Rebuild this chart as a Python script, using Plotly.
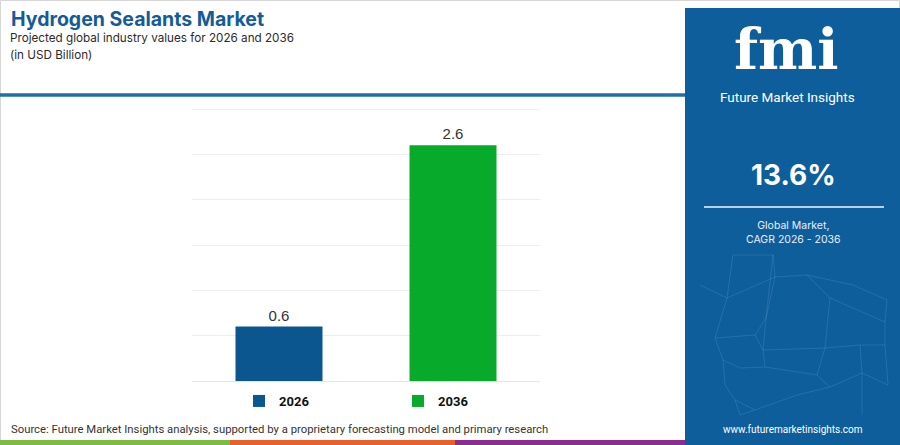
import plotly.graph_objects as go

# ---- data ----
years = ["2026", "2036"]
values = [0.6, 2.6]
bar_colors = ["#0b568f", "#08aa2c"]
value_labels = ["0.6", "2.6"]
grid_values = [0.5, 1.0, 1.5, 2.0, 2.5, 3.0]
cagr_text = "13.6%"
title_text = "Hydrogen Sealants Market"
subtitle_lines = ["Projected global industry values for 2026 and 2036", "(in USD Billion)"]
source_text = "Source: Future Market Insights analysis, supported by a proprietary forecasting model and primary research"

W, H = 900, 445
L, R, T, B = 192, 540, 106, 381  # plot area in px
Y_TOP = 3.0 * (B - T) / 272.0


def px(x):
    return (x - L) / (R - L)


def py(y):
    return (B - y) / (B - T)


fig = go.Figure()
for yr, v, c, lab in zip(years, values, bar_colors, value_labels):
    fig.add_trace(go.Bar(
        x=[yr], y=[v], name=yr, marker=dict(color=c, line=dict(width=0)),
        text=[lab], textposition="outside", cliponaxis=False,
        textfont=dict(family="Liberation Sans, Arial", size=15, color="#333333"),
        width=0.5,
    ))

shapes = []
# outer light border
shapes.append(dict(type="rect", xref="paper", yref="paper", x0=px(0.5), x1=px(899.5), y0=py(444.5), y1=py(0.5),
                   line=dict(color="#d6d6d6", width=1), fillcolor="rgba(0,0,0,0)", layer="below"))
# blue header rule
shapes.append(dict(type="line", xref="paper", yref="paper", x0=px(0), x1=px(686), y0=py(95), y1=py(95),
                   line=dict(color="#1f6fae", width=3.5)))
# right panel
shapes.append(dict(type="rect", xref="paper", yref="paper", x0=px(685), x1=px(900), y0=py(445), y1=py(8),
                   line=dict(width=0), fillcolor="#0e5e9c", layer="above"))
# bottom colour strip
for x0, x1, col in [(0, 230, "#7dbb42"), (230, 455, "#e8612c"), (455, 685, "#8b2c8f")]:
    shapes.append(dict(type="rect", xref="paper", yref="paper", x0=px(x0), x1=px(x1), y0=py(445), y1=py(440),
                       line=dict(width=0), fillcolor=col))
# white divider in panel
shapes.append(dict(type="line", xref="paper", yref="paper", x0=px(704), x1=px(884), y0=py(207), y1=py(207),
                   line=dict(color="#b9d0e6", width=2), layer="above"))

# decorative network in panel
nodes = [(733, 255), (700, 285), (727, 298), (773, 255), (775, 277), (807, 275), (853, 285), (887, 300),
         (766, 318), (830, 298), (885, 322), (715, 338), (755, 335), (763, 350), (825, 348), (860, 345),
         (885, 345), (723, 360), (740, 368), (765, 367), (817, 375), (830, 387), (862, 373), (888, 385),
         (725, 385), (735, 400), (755, 410), (797, 395), (862, 415), (740, 415)]
edges = [(0, 2), (0, 3), (1, 2), (2, 4), (3, 4), (4, 5), (5, 6), (6, 7), (4, 8), (5, 9), (9, 10), (7, 10),
         (2, 11), (11, 12), (12, 13), (8, 13), (13, 14), (9, 14), (14, 15), (15, 16), (10, 16), (11, 17),
         (17, 18), (18, 19), (13, 19), (19, 20), (20, 21), (14, 20), (21, 22), (15, 22), (22, 23), (16, 23),
         (17, 24), (24, 25), (25, 26), (26, 27), (27, 21), (22, 28), (25, 29), (29, 26), (8, 12), (3, 8)]
for a, b in edges:
    (xa, ya), (xb, yb) = nodes[a], nodes[b]
    shapes.append(dict(type="line", xref="paper", yref="paper", x0=px(xa), x1=px(xb), y0=py(ya), y1=py(yb),
                       line=dict(color="rgba(170,205,235,0.15)", width=1), layer="above"))

anns = []
anns.append(dict(text="<b>" + title_text + "</b>", x=px(9), y=py(19), xref="paper", yref="paper",
                 xanchor="left", yanchor="middle", showarrow=False,
                 font=dict(family="Inter, Noto Sans", size=19.5, color="#145c98")))
for i, line in enumerate(subtitle_lines):
    anns.append(dict(text=line, x=px(8), y=py(38 + 17 * i), xref="paper", yref="paper",
                     xanchor="left", yanchor="middle", showarrow=False,
                     font=dict(family="Inter, Noto Sans", size=11.7, color="#2b2b2b")))
anns.append(dict(text=source_text, x=px(9), y=py(429), xref="paper", yref="paper",
                 xanchor="left", yanchor="middle", showarrow=False,
                 font=dict(family="Roboto", size=11.3, color="#333333")))
# panel texts
anns.append(dict(text="<b>fmi</b>", x=px(786), y=py(49), xref="paper", yref="paper",
                 xanchor="center", yanchor="middle", showarrow=False,
                 font=dict(family="DejaVu Serif", size=56, color="#ffffff")))
anns.append(dict(text="Future Market Insights", x=px(787), y=py(97), xref="paper", yref="paper",
                 xanchor="center", yanchor="middle", showarrow=False,
                 font=dict(family="Roboto", size=13.5, color="#ffffff")))
anns.append(dict(text="<b>" + cagr_text + "</b>", x=px(793), y=py(175), xref="paper", yref="paper",
                 xanchor="center", yanchor="middle", showarrow=False,
                 font=dict(family="Inter, Noto Sans", size=28, color="#ffffff")))
anns.append(dict(text="Global Market,<br>CAGR 2026 - 2036", x=px(793), y=py(232), xref="paper", yref="paper",
                 xanchor="center", yanchor="middle", showarrow=False, align="center",
                 font=dict(family="Inter, Noto Sans", size=10.5, color="#e8f0f8")))
anns.append(dict(text="www.futuremarketinsights.com", x=px(793), y=py(429), xref="paper", yref="paper",
                 xanchor="center", yanchor="middle", showarrow=False,
                 font=dict(family="Roboto", size=10, color="#ffffff")))

fig.update_layout(
    width=W, height=H,
    margin=dict(l=L, r=W - R, t=T, b=H - B, pad=0),
    paper_bgcolor="#ffffff", plot_bgcolor="#ffffff",
    barmode="overlay",
    showlegend=True,
    legend=dict(orientation="h", x=px(239), y=py(401), xanchor="left", yanchor="middle",
                font=dict(family="Roboto", size=13, color="#111111", weight="bold"),
                entrywidth=114, itemwidth=30, bgcolor="rgba(0,0,0,0)"),
    xaxis=dict(showgrid=False, showticklabels=False, showline=False, zeroline=False, ticks=""),
    yaxis=dict(range=[0, Y_TOP], tickvals=grid_values, showgrid=True,
               gridcolor="#eeeeee", gridwidth=1,
               showticklabels=False, zeroline=True, zerolinecolor="#e6e6e6", zerolinewidth=1,
               showline=False, ticks=""),
    shapes=shapes, annotations=anns,
)

fig.write_html("out.html", config={"displayModeBar": False},
               post_script="document.body.style.margin='0';")
